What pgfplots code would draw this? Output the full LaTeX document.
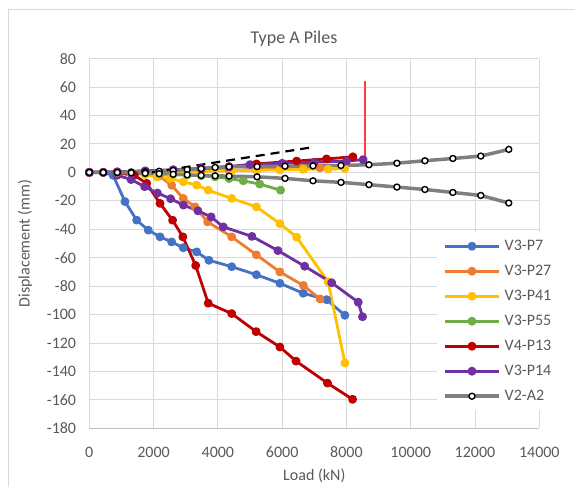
\documentclass[border=0pt]{standalone}
\usepackage{fontspec}
\setmainfont{Carlito}
\usepackage{pgfplots}
\pgfplotsset{compat=1.18}
\definecolor{cblue}{HTML}{4472C4}
\definecolor{corange}{HTML}{ED7D31}
\definecolor{cyellow}{HTML}{FFC000}
\definecolor{cgreen}{HTML}{70AD47}
\definecolor{cred}{HTML}{C00000}
\definecolor{cpurple}{HTML}{7030A0}
\definecolor{cgray}{HTML}{7F7F7F}
\definecolor{gridc}{HTML}{D9D9D9}
\definecolor{axc}{HTML}{BFBFBF}
\definecolor{txt}{HTML}{595959}
\definecolor{vred}{HTML}{FF3B3B}
\begin{document}
\begin{tikzpicture}
\path[use as bounding box] (0,0) rectangle (575pt,487pt);
\draw[gridc, line width=1pt] (8pt,0pt) -- (8pt,477pt) -- (576pt,477pt);
\begin{axis}[
  at={(89.3pt,58.7pt)}, anchor=south west,
  scale only axis, width=450pt, height=369.6pt,
  xmin=0, xmax=14000, ymin=-180, ymax=80,
  xtick={0,2000,...,14000}, ytick={-180,-160,...,80},
  scaled x ticks=false,
  /pgf/number format/.cd, set thousands separator={}, assume math mode=true, /pgfplots/.cd,
  grid=major, major grid style={gridc, line width=1pt},
  axis x line=bottom, axis y line=left,
  x axis line style={-, axc, line width=1pt},
  y axis line style={-, gridc, line width=1pt},
  major tick length=0pt,
  tick label style={font=\fontsize{16}{19}\selectfont, text=txt},
  xticklabel style={anchor=center, yshift=-23.7pt},
  yticklabel style={anchor=east, inner sep=0pt, xshift=-13pt},
  title={Type A Piles},
  title style={at={(axis description cs:0.455,1.037)}, anchor=center, font=\fontsize{18}{21}\selectfont, text=txt},
  xlabel={Load (kN)},
  xlabel style={at={(axis description cs:0.5,-0.129)}, anchor=center, font=\fontsize{16}{19}\selectfont, text=txt},
  ylabel={Displacement (mm)},
  ylabel style={at={(axis description cs:-0.1429,0.5)}, anchor=center, font=\fontsize{16}{19}\selectfont, text=txt},
  legend style={at={(0.7727,0.5311)}, anchor=north west, draw=none, fill=white,
    font=\fontsize{16}{19}\selectfont, text=txt, inner xsep=6pt, inner ysep=7pt,
    row sep=11pt, nodes={inner sep=0pt, text height=11pt, text depth=3pt}, cells={anchor=west},
    /tikz/every even column/.append style={column sep=0pt}},
  legend image code/.code={\draw[mark repeat=2,mark phase=2] plot coordinates {(0pt,0pt)(27pt,0pt)(54pt,0pt)} ++(4pt,0pt);},
  every axis plot/.append style={line width=2.8pt, mark=*, mark size=3pt, line join=round},
]
% V3-P7
\addplot[cblue, mark options={fill=cblue, draw=cblue}] coordinates {
(0,0)(435,0)(740,-2)(1110,-20.5)(1474,-33.6)(1835,-40.6)(2200,-45.3)(2562,-48.9)(2924,-53)(3340,-55.9)(3720,-61.8)(4430,-66.3)(5200,-72)(5930,-78)(6656,-85)(7383,-89.5)(7952,-100.5)};
\addlegendentry{V3-P7}
% V3-P27
\addplot[corange, mark options={fill=corange, draw=corange}] coordinates {
(0,0)(435,0)(870,0)(1305,-0.2)(1740,-0.8)(2175,-2.5)(2562,-9)(2924,-18.3)(3288,-24.2)(3680,-34.8)(4430,-45.3)(5200,-58)(5930,-70)(6660,-79.5)(7180,-89)};
\addlegendentry{V3-P27}
% V3-P41
\addplot[cyellow, mark options={fill=cyellow, draw=cyellow}] coordinates {
(0,0)(435,0)(870,-0.2)(1305,-0.5)(1740,-1.5)(2100,-3.1)(2510,-4.2)(2924,-6.6)(3340,-8.9)(3700,-12.5)(4430,-18.3)(5200,-24.2)(5930,-36)(6450,-45.5)(7430,-77)(7952,-134)};
\addlegendentry{V3-P41}
% V3-P55
\addplot[cgreen, mark options={fill=cgreen, draw=cgreen}] coordinates {
(0,0)(435,0)(870,0)(1305,-0.2)(1740,-0.5)(2175,-0.8)(2610,-1.2)(3045,-1.8)(3480,-2.4)(3915,-3.1)(4350,-4.3)(4790,-5.9)(5300,-8.2)(5950,-12.5)};
\addlegendentry{V3-P55}
% V4-P13
\addplot[cred, mark options={fill=cred, draw=cred}] coordinates {
(0,0)(435,0)(870,-0.3)(1400,-2)(1785,-7.7)(2200,-21.8)(2590,-33.6)(2910,-45.3)(3310,-65.5)(3700,-92)(4430,-99.3)(5190,-112)(5930,-122.8)(6430,-132.7)(7410,-148.2)(8190,-159.6)};
\addlegendentry{V4-P13}
% V3-P14
\addplot[cpurple, mark options={fill=cpurple, draw=cpurple}] coordinates {
(0,0)(435,0)(870,-2)(1300,-5)(1720,-10)(2120,-14.5)(2530,-18.5)(2930,-23)(3380,-27)(3790,-31.3)(4167,-38.3)(5060,-45)(5870,-55)(6700,-66)(7540,-77.6)(8366,-91.3)(8500,-101.5)};
\addlegendentry{V3-P14}
% upper branches
\addplot[corange, mark options={fill=corange, draw=corange}, forget plot] coordinates {
(0,0)(870,0.1)(1740,0.3)(2610,0.6)(3480,1)(4350,1.5)(5200,2)(5930,2.3)(6660,2.8)(7180,3.2)};
\addplot[cyellow, mark options={fill=cyellow, draw=cyellow}, forget plot] coordinates {
(0,0)(870,0.1)(1740,0.2)(2610,0.4)(3480,0.8)(4430,1.2)(5200,1.5)(5930,1.8)(6660,2.1)(7430,2.4)(7950,2.6)};
\addplot[cred, mark options={fill=cred, draw=cred}, forget plot] coordinates {
(0,0)(870,0.3)(1740,0.9)(2610,1.6)(3480,2.5)(4350,4)(5200,6)(6450,8)(7380,9.5)(8200,11)};
\addplot[cpurple, mark options={fill=cpurple, draw=cpurple}, forget plot] coordinates {
(0,0)(870,0.4)(1740,1.1)(2610,1.9)(3480,2.9)(4350,4)(5000,5.5)(6000,6.4)(7000,7.2)(8000,8)(8520,9)};
% V2-A2
\addplot[cgray, line width=3.5pt, mark options={draw=black, fill=white, line width=1.4pt}] coordinates {
(0,0)(435,0)(870,0)(1305,0.2)(1740,0.5)(2175,0.8)(2610,1.4)(3045,2.0)(3480,2.7)(3915,3.5)(4350,4.0)(5220,4.1)(6090,4.4)(6960,4.6)(7830,4.9)(8700,5.4)(9570,6.5)(10440,8.2)(11310,9.8)(12180,11.5)(13050,16.2)};
\addlegendentry{V2-A2}
\addplot[cgray, line width=3.5pt, mark options={draw=black, fill=white, line width=1.4pt}, forget plot] coordinates {
(0,0)(435,0)(870,0)(1305,-0.3)(1740,-0.6)(2175,-0.9)(2610,-1.3)(3045,-1.7)(3480,-2.1)(3915,-2.4)(4350,-2.6)(5220,-3.1)(6090,-4.2)(6960,-5.9)(7830,-7.0)(8700,-8.6)(9570,-10.3)(10440,-12)(11310,-14.1)(12180,-16.2)(13050,-21.5)};
% dashed
\addplot[black, line width=2.2pt, no marks, dash pattern=on 9pt off 6pt, forget plot] coordinates {(1950,0)(7020,18)};
% red vertical
\addplot[vred, line width=1.2pt, no marks, forget plot] coordinates {(8575,7)(8575,64)};
\end{axis}
\end{tikzpicture}
\end{document}
